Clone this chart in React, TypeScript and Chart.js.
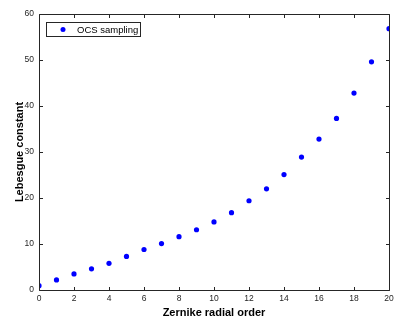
import React, { useEffect, useRef } from "react";
import { Chart, registerables } from "chart.js";

Chart.register(...registerables);

const orders = [0, 1, 2, 3, 4, 5, 6, 7, 8, 9, 10, 11, 12, 13, 14, 15, 16, 17, 18, 19, 20];
const lebesgue = [0.95, 2.2, 3.5, 4.6, 5.8, 7.3, 8.8, 10.1, 11.6, 13.1, 14.8, 16.8, 19.4, 22.0, 25.1, 28.9, 32.8, 37.3, 42.8, 49.6, 56.8];
const seriesLabel = "OCS sampling";
const xTitle = "Zernike radial order";
const yTitle = "Lebesgue constant";
const xTicks = [0, 2, 4, 6, 8, 10, 12, 14, 16, 18, 20];
const yTicks = [0, 10, 20, 30, 40, 50, 60];

const AXIS = "#262626";
const FONT = "'Liberation Sans', Arial, Helvetica, sans-serif";

const boxPlugin = {
  id: "matlabBox",
  afterDraw(chart: any) {
    const { ctx, chartArea: a, scales } = chart;
    ctx.save();
    ctx.strokeStyle = AXIS;
    ctx.lineWidth = 1;
    const L = Math.round(a.left) + 0.5;
    const R = Math.round(a.right) + 0.5;
    const T = Math.round(a.top) + 0.5;
    const B = Math.round(a.bottom) + 0.5;
    ctx.beginPath();
    ctx.rect(L, T, R - L, B - T);
    ctx.stroke();
    const tl = 3.5;
    ctx.beginPath();
    for (const v of xTicks) {
      const x = Math.round(scales.x.getPixelForValue(v)) + 0.5;
      ctx.moveTo(x, B);
      ctx.lineTo(x, B - tl);
      ctx.moveTo(x, T);
      ctx.lineTo(x, T + tl);
    }
    for (const v of yTicks) {
      const y = Math.round(scales.y.getPixelForValue(v)) + 0.5;
      ctx.moveTo(L, y);
      ctx.lineTo(L + tl, y);
      ctx.moveTo(R, y);
      ctx.lineTo(R - tl, y);
    }
    ctx.stroke();
    // legend
    const lx = Math.round(a.left) + 7;
    const ly = Math.round(a.top) + 8;
    const lw = 94;
    const lh = 14;
    ctx.fillStyle = "#ffffff";
    ctx.fillRect(lx, ly, lw, lh);
    ctx.strokeStyle = AXIS;
    ctx.strokeRect(lx + 0.5, ly + 0.5, lw, lh);
    ctx.fillStyle = "#0000ff";
    ctx.beginPath();
    ctx.arc(lx + 17, ly + 7.5, 2.5, 0, Math.PI * 2);
    ctx.fill();
    ctx.fillStyle = "#000000";
    ctx.font = `9.5px ${FONT}`;
    ctx.textBaseline = "middle";
    ctx.textAlign = "left";
    ctx.fillText(chart.data.datasets[0].label, lx + 31, ly + 8);
    ctx.restore();
  },
};

export default function App() {
  const ref = useRef<HTMLCanvasElement>(null);
  useEffect(() => {
    const canvas = ref.current!;
    const chart = new Chart(canvas, {
      type: "scatter",
      data: {
        datasets: [
          {
            label: seriesLabel,
            data: orders.map((x, i) => ({ x, y: lebesgue[i] })),
            backgroundColor: "#0000ff",
            borderColor: "#0000ff",
            pointRadius: 2.6,
            pointBorderWidth: 0,
          },
        ],
      },
      options: {
        responsive: false,
        animation: false,
        layout: { padding: { left: 8, top: 14, right: 27, bottom: 4 } },
        plugins: { legend: { display: false }, tooltip: { enabled: false } },
        scales: {
          x: {
            type: "linear",
            min: 0,
            max: 20,
            afterBuildTicks: (s: any) => {
              s.ticks = xTicks.map((v) => ({ value: v }));
            },
            afterFit: (s: any) => {
              s.height = 34;
            },
            grid: { display: false, drawTicks: false, tickLength: 0 },
            border: { display: false },
            ticks: {
              color: AXIS,
              font: { family: FONT, size: 8.5 },
              padding: 4,
              maxRotation: 0,
              autoSkip: false,
            },
            title: {
              display: true,
              text: xTitle,
              color: "#000000",
              font: { family: FONT, size: 11, weight: "bold" },
              padding: { top: 2, bottom: 4 },
            },
          },
          y: {
            type: "linear",
            min: 0,
            max: 60,
            afterBuildTicks: (s: any) => {
              s.ticks = yTicks.map((v) => ({ value: v }));
            },
            afterFit: (s: any) => {
              s.width = 31;
            },
            grid: { display: false, drawTicks: false, tickLength: 0 },
            border: { display: false },
            ticks: {
              color: AXIS,
              font: { family: FONT, size: 8.5 },
              padding: 5,
              autoSkip: false,
            },
            title: {
              display: true,
              text: yTitle,
              color: "#000000",
              font: { family: FONT, size: 11, weight: "bold" },
              padding: { top: 5, bottom: 2 },
            },
          },
        },
      },
      plugins: [boxPlugin],
    });
    return () => chart.destroy();
  }, []);
  return (
    <div style={{ position: "fixed", left: 0, top: 0, width: 416, height: 328, background: "#ffffff" }}>
      <canvas ref={ref} width={416} height={328} style={{ display: "block" }} />
    </div>
  );
}
